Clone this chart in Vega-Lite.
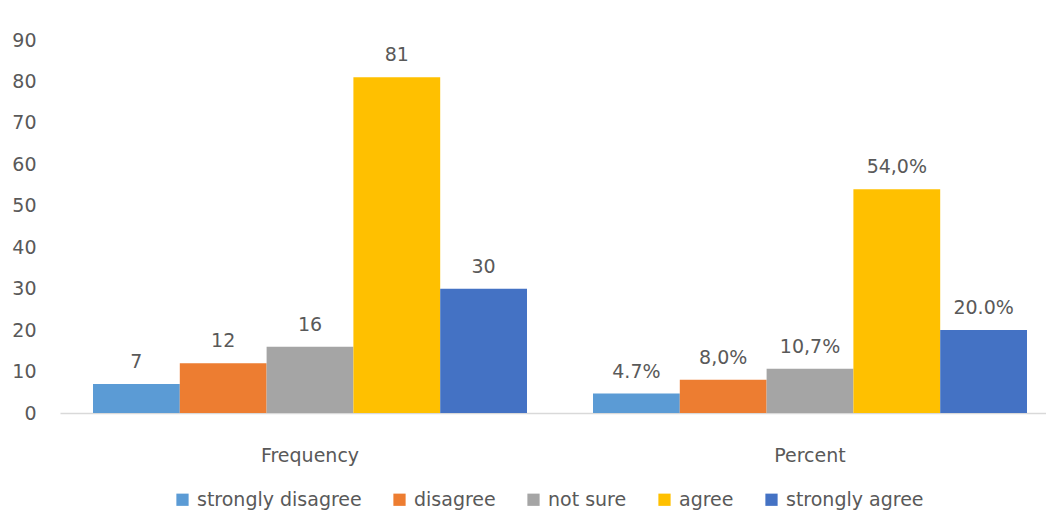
{
  "$schema": "https://vega.github.io/schema/vega-lite/v6.json",
  "autosize": {"type": "none"},
  "width": 1000,
  "height": 373,
  "padding": {"left": 60, "top": 40, "right": -14, "bottom": 99},
  "background": "white",
  "config": {
    "view": {"stroke": null},
    "font": "DejaVu Sans",
    "text": {"font": "DejaVu Sans"}
  },
  "data": {
    "values": [
      {"group": "Frequency", "response": "strongly disagree", "value": 7, "label": "7"},
      {"group": "Frequency", "response": "disagree", "value": 12, "label": "12"},
      {"group": "Frequency", "response": "not sure", "value": 16, "label": "16"},
      {"group": "Frequency", "response": "agree", "value": 81, "label": "81"},
      {"group": "Frequency", "response": "strongly agree", "value": 30, "label": "30"},
      {"group": "Percent", "response": "strongly disagree", "value": 4.7, "label": "4.7%"},
      {"group": "Percent", "response": "disagree", "value": 8.0, "label": "8,0%"},
      {"group": "Percent", "response": "not sure", "value": 10.7, "label": "10,7%"},
      {"group": "Percent", "response": "agree", "value": 54.0, "label": "54,0%"},
      {"group": "Percent", "response": "strongly agree", "value": 20.0, "label": "20.0%"}
    ]
  },
  "encoding": {
    "x": {
      "field": "group",
      "type": "nominal",
      "sort": ["Frequency", "Percent"],
      "scale": {"paddingInner": 0.132, "paddingOuter": 0.066},
      "axis": {
        "title": null,
        "labelAngle": 0,
        "ticks": false,
        "domainColor": "#D9D9D9",
        "domainWidth": 1.5,
        "labelPadding": 33,
        "labelFontSize": 19,
        "labelColor": "#595959",
        "labelFont": "DejaVu Sans"
      }
    },
    "xOffset": {
      "field": "response",
      "type": "nominal",
      "sort": ["strongly disagree", "disagree", "not sure", "agree", "strongly agree"],
      "scale": {"paddingInner": 0, "paddingOuter": 0}
    },
    "y": {
      "field": "value",
      "type": "quantitative",
      "scale": {"domain": [0, 90], "nice": false},
      "axis": {
        "title": null,
        "values": [0, 10, 20, 30, 40, 50, 60, 70, 80, 90],
        "grid": false,
        "ticks": false,
        "domain": false,
        "labelPadding": 24,
        "labelFontSize": 19,
        "labelColor": "#595959",
        "labelFont": "DejaVu Sans"
      }
    }
  },
  "layer": [
    {
      "mark": {"type": "bar"},
      "encoding": {
        "color": {
          "field": "response",
          "type": "nominal",
          "sort": ["strongly disagree", "disagree", "not sure", "agree", "strongly agree"],
          "scale": {
            "domain": ["strongly disagree", "disagree", "not sure", "agree", "strongly agree"],
            "range": ["#5B9BD5", "#ED7D31", "#A5A5A5", "#FFC000", "#4472C4"]
          },
          "legend": {
            "title": null,
            "orient": "none",
            "direction": "horizontal",
            "legendX": 113,
            "legendY": 450,
            "symbolType": "square",
            "symbolSize": 150,
            "symbolStrokeWidth": 0,
            "symbolOpacity": 1,
            "labelFontSize": 19,
            "labelLimit": 400,
            "labelColor": "#595959",
            "labelFont": "DejaVu Sans",
            "columnPadding": 28,
            "symbolOffset": 0,
            "labelOffset": 5
          }
        }
      }
    },
    {
      "mark": {"type": "text", "baseline": "bottom", "dy": -12, "fontSize": 19, "color": "#595959", "font": "DejaVu Sans"},
      "encoding": {
        "text": {"field": "label"}
      }
    }
  ]
}
